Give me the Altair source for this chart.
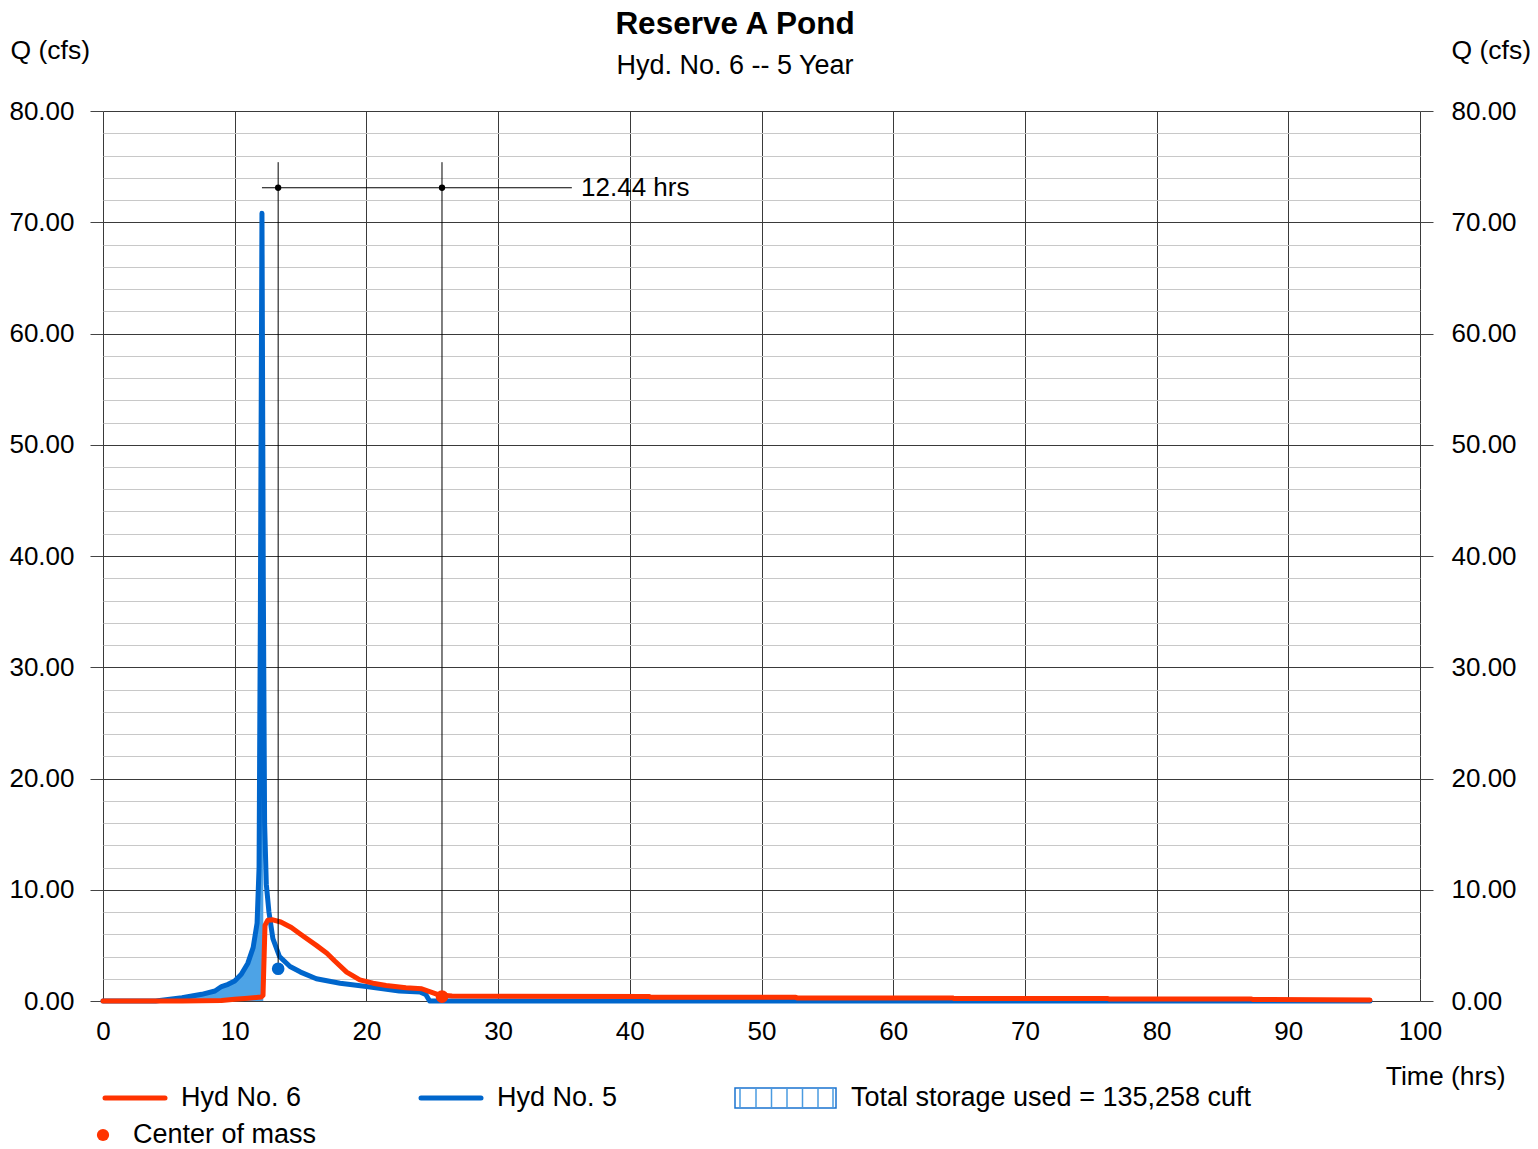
import altair as alt
import pandas as pd

FONT = "Liberation Sans"
RED = "#ff3300"
BLUE = "#0066cc"
FILL = "#4da3e6"

# ---- data ----
hyd5_time = [0, 4, 6, 7.5, 8.5, 9.0, 9.5, 10.0, 10.5, 11.0, 11.4, 11.7, 11.85, 11.95, 12.07,
             12.17, 12.27, 12.4, 12.6, 12.9, 13.4, 14.2, 15.0, 16.2, 18.0, 20.0, 22.5, 24.1,
             24.5, 24.8, 96.2]
hyd5_q = [0, 0, 0.3, 0.6, 0.9, 1.3, 1.5, 1.8, 2.4, 3.4, 4.8, 7.0, 12.0, 35.0, 70.8,
          38.0, 16.0, 10.5, 8.0, 5.6, 4.0, 3.1, 2.6, 2.0, 1.6, 1.3, 0.9, 0.8,
          0.6, 0.0, 0.0]

hyd6_time = [0, 6, 9, 10, 11, 12.0, 12.15, 12.3, 12.5, 12.9, 13.5, 14.3, 15.0, 16.2, 17.0,
             17.6, 18.5, 19.5, 20.5, 21.5, 23.0, 24.2, 24.8, 25.5, 26.5, 41.5, 41.6, 52.6,
             52.7, 64.5, 64.6, 76.3, 76.4, 87.2, 87.3, 96.2]
hyd6_q = [0, 0, 0.05, 0.15, 0.25, 0.35, 0.5, 6.8, 7.25, 7.3, 7.1, 6.6, 6.0, 5.0, 4.3,
          3.6, 2.6, 1.9, 1.6, 1.4, 1.2, 1.1, 0.85, 0.55, 0.45, 0.4, 0.33, 0.33,
          0.28, 0.28, 0.23, 0.23, 0.18, 0.18, 0.13, 0.1]

storage_start = 4.0
storage_end = 12.17

com_time = [13.30, 25.74]
com_q = [2.9, 0.4]
com_color = [BLUE, RED]

lag_y = 73.1
lag_top = 75.4
lag_start = 12.07
lag_end = 35.6
lag_label = "12.44 hrs"
lag_label_x = 36.3

x_ticks = list(range(0, 101, 10))
y_ticks = list(range(0, 81, 2))
y_major = list(range(0, 81, 10))

W, H = 1317, 890

hyd5 = pd.DataFrame({"t": hyd5_time, "q": hyd5_q})
hyd6 = pd.DataFrame({"t": hyd6_time, "q": hyd6_q})
storage = hyd5[(hyd5.t >= storage_start) & (hyd5.t <= storage_end)].copy()
storage["zero"] = 0.0
com = pd.DataFrame({"t": com_time, "q": com_q, "c": com_color})
lag_pts = pd.DataFrame({"t": com_time, "q": [lag_y, lag_y]})
vlines = pd.DataFrame({"t": com_time, "q": [lag_top, lag_top], "bottom": com_q})
hline = pd.DataFrame({"t": [lag_start], "t2": [lag_end], "q": [lag_y]})
lag_txt = pd.DataFrame({"t": [lag_label_x], "q": [lag_y], "txt": [lag_label]})

xscale = alt.Scale(domain=[0, 100], nice=False, zero=False)
yscale = alt.Scale(domain=[0, 80], nice=False, zero=False)

is_major = "datum.value % 10 === 0"

x_axis = alt.Axis(
    values=x_ticks, grid=True, gridColor="#3a3a3a", gridWidth=1,
    ticks=False, domain=False, labelFontSize=26, labelFont=FONT, labelColor="black",
    labelPadding=17, labelFlush=False, labelOverlap=False,
    title="Time (hrs)", titleFont=FONT, titleFontSize=26.5, titleFontWeight="normal",
    titleColor="black", titleX=1402, titleY=75, titleAlign="right",
    titleBaseline="middle", titleAnchor="start",
)

y_axis_left = alt.Axis(
    values=y_ticks, grid=True,
    gridColor={"condition": {"test": is_major, "value": "#3a3a3a"}, "value": "#c8c8c8"},
    gridWidth=1, domain=False, tickSize=13, tickColor="#444444",
    tickOpacity={"condition": {"test": is_major, "value": 1}, "value": 0},
    labelExpr=f"{is_major} ? format(datum.value, '.2f') : ''",
    labelFontSize=26, labelFont=FONT, labelColor="black", labelPadding=16,
    labelOverlap=False, labelFlush=False, labelBaseline="middle",
    title="Q (cfs)", titleFont=FONT, titleFontSize=26.5, titleFontWeight="normal",
    titleColor="black", titleAngle=0, titleX=-93, titleY=-61, titleAlign="left",
    titleBaseline="middle",
)

y_axis_right = alt.Axis(
    orient="right", values=y_major, grid=False, domain=False, tickSize=13,
    tickColor="#444444", format=".2f",
    labelFontSize=26, labelFont=FONT, labelColor="black", labelPadding=18,
    labelOverlap=False, labelFlush=False, labelBaseline="middle",
    title="Q (cfs)", titleFont=FONT, titleFontSize=26.5, titleFontWeight="normal",
    titleColor="black", titleAngle=0, titleX=31, titleY=-61, titleAlign="left",
    titleBaseline="middle",
)


def X(f="t"):
    return alt.X(f"{f}:Q", scale=xscale, axis=x_axis)


def Y(f="q"):
    return alt.Y(f"{f}:Q", scale=yscale, axis=y_axis_left)


fill_area = alt.Chart(storage).mark_area(color=FILL, opacity=1).encode(
    x=X(), y=Y(), y2="zero:Q")

blue_line = alt.Chart(hyd5).mark_line(color=BLUE, strokeWidth=5, strokeCap="round",
                                      strokeJoin="round").encode(x=X(), y=Y(), order="t:Q")
red_line = alt.Chart(hyd6).mark_line(color=RED, strokeWidth=5, strokeCap="round",
                                     strokeJoin="round").encode(x=X(), y=Y(), order="t:Q")

vl = alt.Chart(vlines).mark_rule(color="black", strokeWidth=1).encode(
    x=X(), y=Y(), y2="bottom:Q")
hl = alt.Chart(hline).mark_rule(color="black", strokeWidth=1).encode(
    x=X(), x2="t2:Q", y=Y())
lag_dots = alt.Chart(lag_pts).mark_circle(color="black", size=40, opacity=1).encode(x=X(), y=Y())
lag_text = alt.Chart(lag_txt).mark_text(align="left", baseline="middle", fontSize=26,
                                        font=FONT, color="black").encode(
    x=X(), y=Y(), text="txt:N")

com_dots = alt.Chart(com).mark_circle(size=160, opacity=1).encode(
    x=X(), y=Y(), color=alt.Color("c:N", scale=None))


def txt(text, x, y, size=27, weight="normal", align="left", baseline="middle"):
    return alt.Chart(alt.Data(values=[{}])).mark_text(
        text=text, fontSize=size, font=FONT, fontWeight=weight, align=align,
        baseline=baseline, color="black").encode(x=alt.value(x), y=alt.value(y))


def seg(x1, x2, y, color, width=5):
    return alt.Chart(alt.Data(values=[{}])).mark_rule(
        color=color, strokeWidth=width, strokeCap="round").encode(
        x=alt.value(x1), x2=alt.value(x2), y=alt.value(y))


title = txt("Reserve A Pond", 632, -77, size=31.5, weight="bold", align="center",
            baseline="alphabetic")
subtitle = txt("Hyd. No. 6 -- 5 Year", 632, -45, size=27, align="center")

leg_y1 = 987
leg_y2 = 1024
legend_items = [
    seg(2, 62, leg_y1, RED),
    txt("Hyd No. 6", 78, leg_y1),
    seg(318, 378, leg_y1, BLUE),
    txt("Hyd No. 5", 394, leg_y1),
    alt.Chart(alt.Data(values=[{}])).mark_rect(fill="white", stroke="#1a73d0", strokeWidth=1.5).encode(
        x=alt.value(632), x2=alt.value(733), y=alt.value(977), y2=alt.value(997)),
    txt("Total storage used = 135,258 cuft", 748, leg_y1),
    alt.Chart(alt.Data(values=[{}])).mark_circle(color=RED, size=150, opacity=1).encode(
        x=alt.value(0), y=alt.value(leg_y2)),
    txt("Center of mass", 30, leg_y2),
]
for hx in [637, 653, 668.5, 684, 699.5, 715, 730]:
    legend_items.append(
        alt.Chart(alt.Data(values=[{}])).mark_rule(color="#4a9be0", strokeWidth=1.5).encode(
            x=alt.value(hx), y=alt.value(977), y2=alt.value(997)))

main = alt.layer(fill_area, blue_line, red_line, vl, hl, lag_dots, lag_text, com_dots,
                 title, subtitle, *legend_items)

right = alt.Chart(pd.DataFrame({"v": y_major})).mark_tick(opacity=0).encode(
    y=alt.Y("v:Q", scale=yscale, axis=y_axis_right))

chart = alt.layer(main, right).resolve_scale(y="independent").properties(
    width=W, height=H,
    autosize=alt.AutoSizeParams(type="none"),
    padding={"left": 95, "top": 103, "right": 110, "bottom": 148},
    background="white",
).configure_view(stroke=None)

chart.save("out.html", embed_options={"renderer": "svg", "actions": False})
